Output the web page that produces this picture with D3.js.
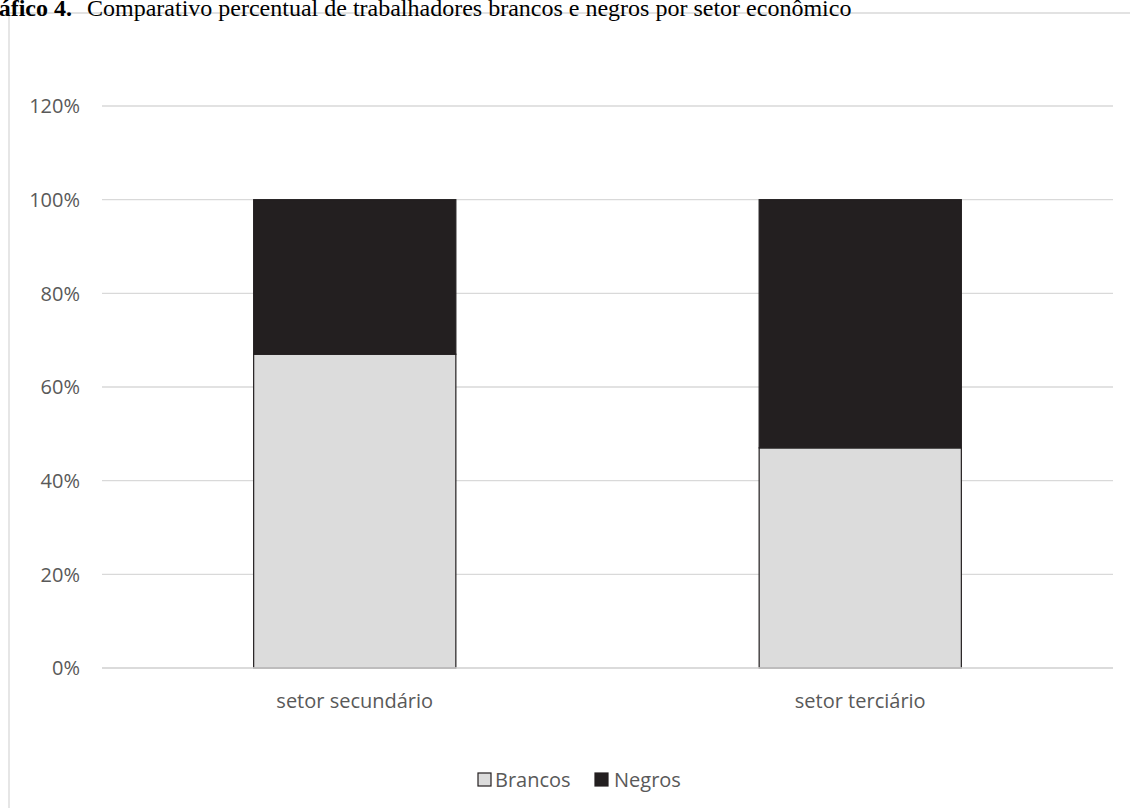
<!DOCTYPE html>
<html>
<head>
<meta charset="utf-8">
<script src="https://cdn.jsdelivr.net/npm/d3@7"></script>
<style>
  html, body { margin: 0; padding: 0; background: #fff; overflow: hidden; }
  svg { display: block; }
</style>
</head>
<body>
<svg id="chart" width="1130" height="812"></svg>
<script>
const categories = ["setor secundário", "setor terciário"];
const seriesNames = ["Brancos", "Negros"];
const brancos = [67, 47];   // percent
const negros = [33, 53];
const yTicks = [0, 20, 40, 60, 80, 100, 120];
const titleBold = "Gráfico 4.";
const titleText = "Comparativo percentual de trabalhadores brancos e negros por setor econômico";
const colors = { Brancos: "#dcdcdc", Negros: "#231f20" };

const svg = d3.select("#chart");
const font = "'Open Sans', 'Noto Sans', sans-serif";
const textColor = "#595959";

// Frame
svg.append("line").attr("x1", 9).attr("x2", 9).attr("y1", 13).attr("y2", 808)
  .attr("stroke", "#d9d9d9").attr("stroke-width", 1.3);
svg.append("line").attr("x1", 9).attr("x2", 1135).attr("y1", 13).attr("y2", 13)
  .attr("stroke", "#d9d9d9").attr("stroke-width", 1.3);

// Title (placed like the reference, top-left)
svg.append("text").attr("x", 72).attr("y", 16).attr("text-anchor", "end")
  .attr("font-family", "'Liberation Serif', 'Times New Roman', serif")
  .attr("font-weight", "bold").attr("font-size", 24).attr("fill", "#000")
  .text(titleBold);
svg.append("text").attr("x", 87).attr("y", 16)
  .attr("font-family", "'Liberation Serif', 'Times New Roman', serif")
  .attr("font-size", 24).attr("fill", "#000")
  .text(titleText);

const x = d3.scaleBand().domain(categories).range([102, 1113]).paddingInner(0.6).paddingOuter(0.3);
const y = d3.scaleLinear().domain([0, 120]).range([668, 106]);

// Gridlines
svg.append("g").selectAll("line").data(yTicks).join("line")
  .attr("x1", 102).attr("x2", 1113)
  .attr("y1", d => y(d)).attr("y2", d => y(d))
  .attr("stroke", "#d9d9d9").attr("stroke-width", 1.3);

// Y tick labels
svg.append("g").selectAll("text").data(yTicks).join("text")
  .attr("x", 80).attr("y", d => y(d)).attr("dy", "0.36em")
  .attr("text-anchor", "end").attr("font-family", font).attr("font-size", 20)
  .attr("fill", textColor).text(d => d + "%");

// Stacked bars
const rows = categories.map((c, i) => ({ cat: c, Brancos: brancos[i], Negros: negros[i] }));
const stack = d3.stack().keys(seriesNames)(rows);
svg.append("g").selectAll("g").data(stack).join("g")
  .attr("fill", d => colors[d.key])
  .selectAll("rect").data(d => d).join("rect")
  .attr("x", d => x(d.data.cat))
  .attr("width", x.bandwidth())
  .attr("y", d => y(d[1]))
  .attr("height", d => y(d[0]) - y(d[1]))
  .attr("stroke", "#231f20").attr("stroke-width", 1.2);

// Baseline axis line over bars
svg.append("line").attr("x1", 102).attr("x2", 1113).attr("y1", y(0)).attr("y2", y(0))
  .attr("stroke", "#d9d9d9").attr("stroke-width", 1.3);

// Category labels
svg.append("g").selectAll("text").data(categories).join("text")
  .attr("x", d => x(d) + x.bandwidth() / 2).attr("y", 708)
  .attr("text-anchor", "middle").attr("font-family", font).attr("font-size", 20)
  .attr("fill", textColor).text(d => d);

// Legend
const legendItems = [
  { name: "Brancos", sx: 478, tx: 495 },
  { name: "Negros", sx: 595, tx: 614 }
];
const lg = svg.append("g");
lg.selectAll("rect").data(legendItems).join("rect")
  .attr("x", d => d.sx).attr("y", 773).attr("width", 13).attr("height", 13)
  .attr("fill", d => colors[d.name]).attr("stroke", "#231f20").attr("stroke-width", 1.2);
lg.selectAll("text").data(legendItems).join("text")
  .attr("x", d => d.tx).attr("y", 780).attr("dy", "0.36em")
  .attr("font-family", font).attr("font-size", 20).attr("fill", textColor)
  .text(d => d.name);
</script>
</body>
</html>
